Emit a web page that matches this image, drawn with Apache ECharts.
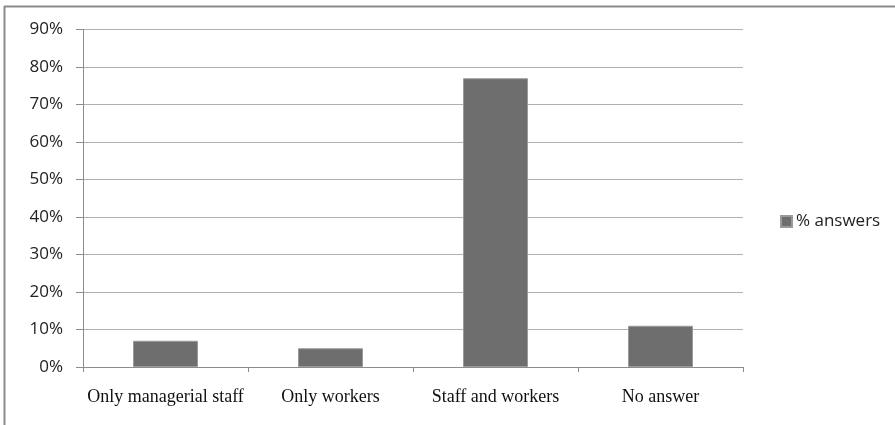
<!DOCTYPE html>
<html>
<head>
<meta charset="utf-8">
<script src="https://cdn.jsdelivr.net/npm/echarts@6/dist/echarts.min.js"></script>
<style>
html,body{margin:0;padding:0;background:#fff;}
#chart{width:895px;height:425px;}
</style>
</head>
<body>
<div id="chart"></div>
<script>
var categories = ['Only managerial staff', 'Only workers', 'Staff and workers', 'No answer'];
var answers = [7, 5, 77, 11];
var seriesName = '% answers';

var chart = echarts.init(document.getElementById('chart'), null, {renderer: 'canvas'});
chart.setOption({
  animation: false,
  backgroundColor: '#fff',
  graphic: [
    {type: 'line', shape: {x1: 4, y1: 6.5, x2: 895, y2: 6.5}, style: {stroke: '#8c8c8c', lineWidth: 2}},
    {type: 'line', shape: {x1: 4.5, y1: 6, x2: 4.5, y2: 425}, style: {stroke: '#8c8c8c', lineWidth: 2}}
  ],
  grid: {left: 83, right: 152, top: 29.5, bottom: 58, containLabel: false},
  legend: {
    data: [seriesName],
    left: 775, top: 208,
    itemWidth: 11, itemHeight: 11, itemGap: 5,
    icon: 'rect',
    textStyle: {fontFamily: 'Open Sans', fontSize: 17, color: '#222', padding: [0,0,0,-1]}
  },
  xAxis: {
    type: 'category',
    data: categories,
    axisLine: {lineStyle: {color: '#8c8c8c', width: 1}},
    axisTick: {show: true, length: 5, interval: 0, lineStyle: {color: '#8c8c8c'}},
    axisLabel: {interval: 0, fontFamily: 'Liberation Serif', fontSize: 18, color: '#111', margin: 21}
  },
  yAxis: {
    type: 'value',
    min: 0, max: 90, interval: 10,
    axisLine: {show: true, lineStyle: {color: '#8c8c8c', width: 1}},
    axisTick: {show: true, length: 7, lineStyle: {color: '#8c8c8c'}},
    axisLabel: {formatter: '{value}%', fontFamily: 'Open Sans', fontSize: 17, color: '#222', margin: 20},
    splitLine: {show: true, lineStyle: {color: '#b0b0b0', width: 1}}
  },
  series: [{
    name: seriesName,
    type: 'bar',
    data: answers,
    barWidth: 65,
    itemStyle: {color: '#6e6e6e', borderColor: '#9a9a9a', borderWidth: 1}
  }]
});
</script>
</body>
</html>
